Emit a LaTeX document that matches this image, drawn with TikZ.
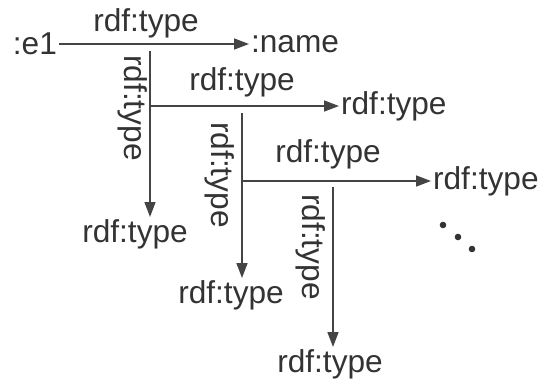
\documentclass[tikz,border=0pt]{standalone}
\usepackage{fontspec}
\setmainfont{Liberation Sans}
\usetikzlibrary{arrows.meta}
\definecolor{ink}{HTML}{333333}
\definecolor{wire}{HTML}{444444}
\tikzset{
lbl/.style={font=\fontsize{18}{20}\selectfont,text=ink,inner sep=1pt},
vlbl/.style={lbl,rotate=-90},
rel/.style={draw=wire,line width=0.9pt,-{Triangle[length=0.3cm,width=0.22cm]}}
}

\begin{document}
\begin{tikzpicture}[x=0.02cm,y=-0.02cm]
\useasboundingbox (0,0) rectangle (541,379);
% subjects and objects
\node[lbl,anchor=east] (e1) at (59,44) {:e1};
\node[lbl,anchor=west] (name) at (249,44) {:name};
\node[lbl,anchor=west] (tgt2) at (339,106) {rdf:type};
\node[lbl,anchor=west] (tgt3) at (431,181) {rdf:type};
\node[lbl,anchor=north] (bot1) at (135,217) {rdf:type};
\node[lbl,anchor=north] (bot2) at (231,278) {rdf:type};
\node[lbl,anchor=north] (bot3) at (330,347) {rdf:type};
% branch points
\coordinate (s1) at (150,51);
\coordinate (h2) at (150,106);
\coordinate (s2) at (242,113);
\coordinate (h3) at (242,181);
\coordinate (s3) at (333,187);
% edges
\draw[rel] (e1) -- (name);
\draw[rel] (s1) -- (s1 |- bot1.north);
\draw[rel] (h2) -- (h2 -| tgt2.west);
\draw[rel] (s2) -- (s2 |- bot2.north);
\draw[rel] (h3) -- (h3 -| tgt3.west);
\draw[rel] (s3) -- (s3 |- bot3.north);
% edge labels
\node[lbl] (l1) at (146,23) {rdf:type};
\node[lbl] (l2) at (242,82) {rdf:type};
\node[lbl] (l3) at (328,154) {rdf:type};
\node[vlbl] (v1) at (133,108) {rdf:type};
\node[vlbl] (v2) at (220,175) {rdf:type};
\node[vlbl] (v3) at (311,247) {rdf:type};
% more of the same
\foreach \x/\y in {443/225,458/237,472/249}
  \fill[ink] (\x,\y) circle (3.3);
\end{tikzpicture}
\end{document}
